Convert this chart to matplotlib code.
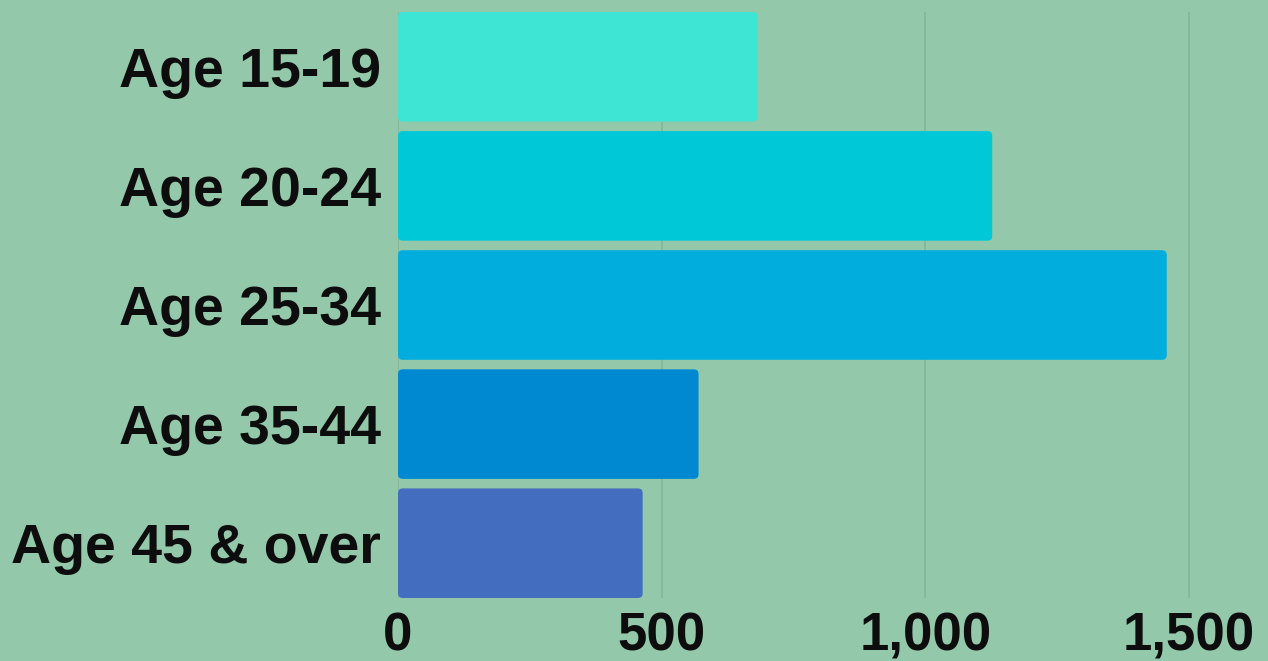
import matplotlib.pyplot as plt
from matplotlib.patches import FancyBboxPatch
from matplotlib.ticker import FuncFormatter

categories = ["Age 15-19", "Age 20-24", "Age 25-34", "Age 35-44", "Age 45 & over"]
values = [682, 1127, 1458, 570, 464]
colors = ["#3ee5d5", "#00c8d7", "#00addc", "#0089d0", "#436ec0"]
xticks = [0, 500, 1000, 1500]

bg = "#94c8ab"

plt.rcParams["font.family"] = ["Liberation Sans", "DejaVu Sans"]

fig = plt.figure(figsize=(12.68, 6.61), dpi=100, facecolor=bg)
ax = fig.add_axes([398 / 1268, 1 - 598 / 661, 1 - 398 / 1268, (598 - 12) / 661])
ax.set_facecolor(bg)

pos = list(range(len(categories)))
bars = ax.barh(pos, values, height=0.92, color=colors, zorder=2)

# swap plain rectangles for slightly rounded ones
for rect in bars:
    x, y = rect.get_x(), rect.get_y()
    w, h = rect.get_width(), rect.get_height()
    patch = FancyBboxPatch(
        (x, y), w, h,
        boxstyle="round,pad=0,rounding_size=9",
        mutation_aspect=0.0045,
        facecolor=rect.get_facecolor(),
        edgecolor="none",
        zorder=2,
    )
    ax.add_patch(patch)
    rect.remove()

ax.set_xlim(0, 1650)
ax.set_ylim(len(categories) - 1 + 0.46, -0.46)

ax.set_yticks(pos)
ax.set_yticklabels(categories)
ax.set_xticks(xticks)
ax.xaxis.set_major_formatter(FuncFormatter(lambda v, _: f"{v:,.0f}"))

ax.tick_params(axis="both", length=0, labelcolor="#0d0d0d")
ax.tick_params(axis="y", pad=12, labelsize=40)
ax.tick_params(axis="x", pad=10, labelsize=38)
for lbl in ax.get_xticklabels() + ax.get_yticklabels():
    lbl.set_fontweight("bold")

ax.grid(axis="x", color="#86b59a", linewidth=1.2, zorder=1)
ax.set_axisbelow(True)
for s in ax.spines.values():
    s.set_visible(False)

fig.savefig("out.png", dpi=100, facecolor=bg)
